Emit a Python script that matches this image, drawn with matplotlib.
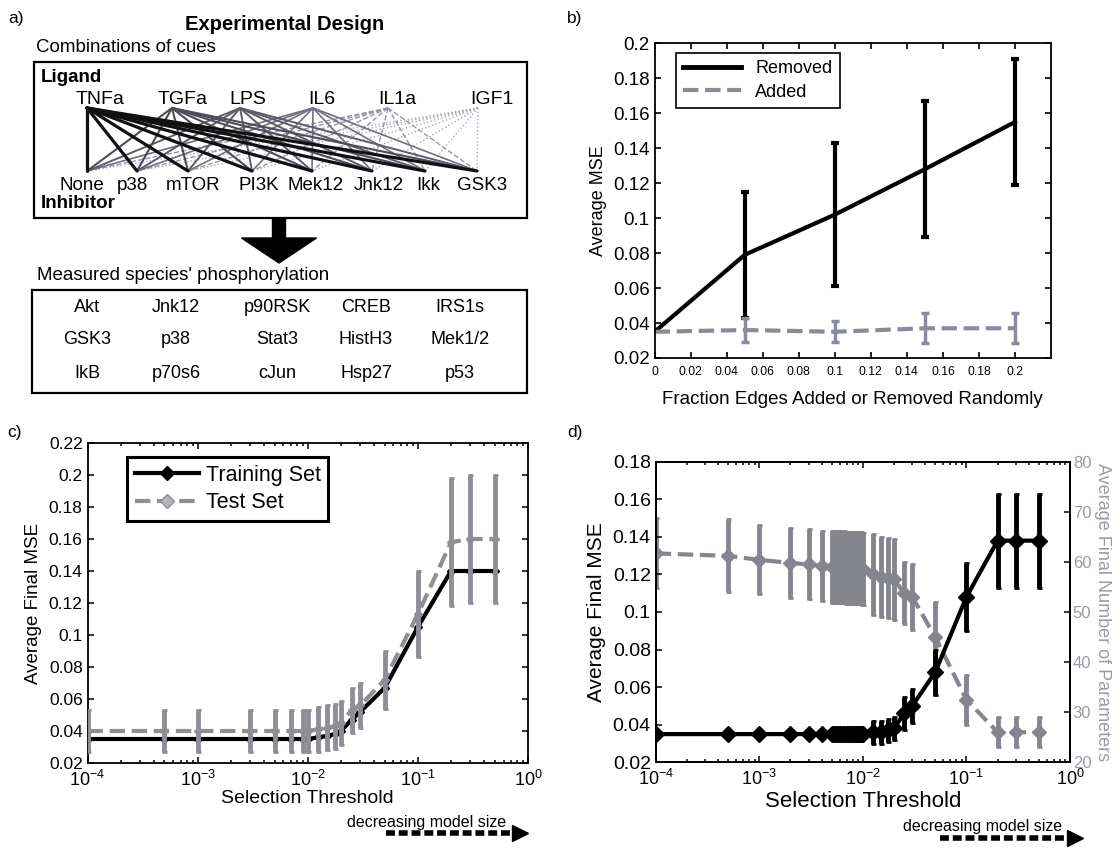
import matplotlib.pyplot as plt
from matplotlib.lines import Line2D
from matplotlib.patches import Rectangle
from matplotlib.ticker import FuncFormatter

plt.rcParams['font.family'] = ['Liberation Sans', 'DejaVu Sans']
plt.rcParams['mathtext.default'] = 'regular'

# ---------------- data ----------------
# panel a: experimental design
ligands = ['TNFa', 'TGFa', 'LPS', 'IL6', 'IL1a', 'IGF1']
inhibitors = ['None', 'p38', 'mTOR', 'PI3K', 'Mek12', 'Jnk12', 'Ikk', 'GSK3']
species = [['Akt', 'Jnk12', 'p90RSK', 'CREB', 'IRS1s'],
           ['GSK3', 'p38', 'Stat3', 'HistH3', 'Mek1/2'],
           ['IkB', 'p70s6', 'cJun', 'Hsp27', 'p53']]

# panel b: random edge perturbation
frac_edges = [0, 0.05, 0.1, 0.15, 0.2]
removed_mse = [0.035, 0.079, 0.102, 0.128, 0.155]
removed_err = [0.0, 0.036, 0.041, 0.039, 0.036]
added_mse = [0.035, 0.036, 0.035, 0.037, 0.037]
added_err = [0.0, 0.007, 0.006, 0.0085, 0.0085]

# panel c: training / test MSE vs selection threshold
thr_c = [1e-4, 5e-4, 1e-3, 3e-3, 5e-3, 7e-3, 9e-3, 1e-2, 1.25e-2, 1.5e-2,
         1.75e-2, 2e-2, 2.5e-2, 3e-2, 5e-2, 1e-1, 2e-1, 3e-1, 5e-1]
train_c = [0.035, 0.035, 0.035, 0.035, 0.035, 0.035, 0.035, 0.035, 0.036, 0.037,
           0.038, 0.040, 0.047, 0.052, 0.067, 0.105, 0.140, 0.140, 0.140]
test_c = [0.040, 0.040, 0.040, 0.040, 0.040, 0.040, 0.040, 0.040, 0.041, 0.042,
          0.043, 0.045, 0.053, 0.056, 0.072, 0.113, 0.158, 0.160, 0.160]
test_err_c = [0.013, 0.013, 0.013, 0.013, 0.013, 0.013, 0.013, 0.013, 0.014, 0.014,
              0.014, 0.014, 0.014, 0.014, 0.018, 0.027, 0.040, 0.040, 0.040]

# panel d: MSE and number of parameters vs selection threshold
thr_d = [0.0001, 0.0005, 0.001, 0.002, 0.003, 0.004,
         0.0050, 0.0052, 0.0054, 0.0056, 0.0058, 0.0060, 0.0062, 0.0064, 0.0066, 0.0068,
         0.0070, 0.0072, 0.0074, 0.0076, 0.0078, 0.0080, 0.0082, 0.0084, 0.0086, 0.0088,
         0.0090, 0.0092, 0.0094, 0.0096, 0.0098, 0.0100,
         0.0125, 0.015, 0.0175, 0.02, 0.025, 0.03, 0.05, 0.1, 0.2, 0.3, 0.5]
mse_d = [0.035, 0.035, 0.035, 0.035, 0.035, 0.035,
         0.035, 0.035, 0.035, 0.035, 0.035, 0.035, 0.035, 0.035, 0.035, 0.035,
         0.035, 0.035, 0.035, 0.035, 0.035, 0.035, 0.035, 0.035, 0.035, 0.035,
         0.035, 0.035, 0.035, 0.035, 0.035, 0.035,
         0.036, 0.036, 0.037, 0.038, 0.046, 0.050, 0.068, 0.108, 0.138, 0.138, 0.138]
mse_err_d = [0.002, 0.002, 0.002, 0.002, 0.002, 0.002,
             0.002, 0.002, 0.002, 0.002, 0.002, 0.002, 0.002, 0.002, 0.002, 0.002,
             0.002, 0.002, 0.002, 0.002, 0.002, 0.002, 0.002, 0.002, 0.002, 0.002,
             0.002, 0.002, 0.002, 0.002, 0.002, 0.002,
             0.006, 0.006, 0.006, 0.006, 0.009, 0.009, 0.012, 0.018, 0.025, 0.025, 0.025]
params_d = [61.7, 61.2, 60.4, 59.8, 59.5, 59.2,
            59.0, 59.0, 59.0, 59.0, 58.9, 58.9, 58.9, 58.9, 58.9, 58.8,
            58.8, 58.8, 58.8, 58.8, 58.8, 58.7, 58.7, 58.7, 58.7, 58.7,
            58.7, 58.7, 58.7, 58.7, 58.6, 58.6,
            57.5, 57.0, 56.8, 56.5, 53.8, 53.0, 45.0, 32.5, 26.0, 26.0, 26.0]
params_err_d = [7.0, 7.3, 6.9, 7.0, 7.0, 7.0,
                7.2, 7.2, 7.2, 7.2, 7.2, 7.2, 7.2, 7.2, 7.2, 7.2,
                7.2, 7.2, 7.2, 7.2, 7.2, 7.2, 7.2, 7.2, 7.2, 7.2,
                7.2, 7.2, 7.2, 7.2, 7.2, 7.2,
                8.0, 8.0, 8.0, 8.0, 6.2, 6.5, 7.0, 5.0, 3.0, 3.0, 3.0]

# ---------------- layout (pixels) ----------------
W, H = 1120, 848
lig_label_x = [100, 183, 248, 322, 397, 492]
lig_anchor_x = [87, 172, 240, 313, 388, 478]
inh_label_x = [82, 132, 193, 259, 316, 379, 428, 482]
inh_anchor_x = [87, 137, 188, 252, 312, 372, 425, 477]
lig_styles = [('#111111', 2.3, '-'), ('#4c4c58', 1.5, '-'), ('#5c5c6a', 1.4, '-'),
              ('#70707e', 1.2, '-'), ('#9595aa', 1.0, '--'), ('#a8a8c4', 1.0, ':')]
col_x = [87, 176, 277, 366, 460]
row_y = [307, 340, 373]

grey_b = '#8a8a9e'
grey_c = '#8e8e96'
grey_d = '#85858f'
grey_lab = '#9a9aa8'


def px_rect(l, t, r, b):
    return [l / W, 1 - b / H, (r - l) / W, (b - t) / H]


def style_axes(ax):
    for s in ax.spines.values():
        s.set_linewidth(1.3)
        s.set_color('k')


fmt_g = FuncFormatter(lambda v, p: '%g' % round(v, 4))

fig = plt.figure(figsize=(W / 100, H / 100), dpi=100)

# ---------------- panel b ----------------
axb = fig.add_axes(px_rect(654.6, 43.3, 1051, 358))
axb.errorbar(frac_edges, removed_mse, yerr=removed_err, color='k', lw=3,
             elinewidth=3, capsize=3, capthick=3, errorevery=(1, 1))
axb.errorbar(frac_edges, added_mse, yerr=added_err, color=grey_b, lw=3, ls='--',
             elinewidth=2.5, capsize=3, capthick=2.5, errorevery=(1, 1))
axb.set_xlim(0, 0.22)
axb.set_ylim(0.02, 0.2)
axb.set_xticks([0, 0.02, 0.04, 0.06, 0.08, 0.1, 0.12, 0.14, 0.16, 0.18, 0.2])
axb.set_yticks([0.02, 0.04, 0.06, 0.08, 0.1, 0.12, 0.14, 0.16, 0.18, 0.2])
axb.xaxis.set_major_formatter(fmt_g)
axb.yaxis.set_major_formatter(fmt_g)
axb.tick_params(direction='in', top=True, right=True, length=4, width=1.2)
axb.tick_params(axis='y', labelsize=13.5)
axb.tick_params(axis='x', labelsize=8.8, pad=6)
axb.set_xlabel('Fraction Edges Added or Removed Randomly', fontsize=13.5, labelpad=9)
axb.set_ylabel('Average MSE', fontsize=13)
style_axes(axb)
leg = axb.legend([Line2D([], [], color='k', lw=3.5),
                  Line2D([], [], color=grey_b, lw=3, ls='--')],
                 ['Removed', 'Added'], loc='upper left', bbox_to_anchor=(0.054, 0.969),
                 borderaxespad=0, fontsize=13, fancybox=False, edgecolor='k',
                 framealpha=1, handlelength=3.2, borderpad=0.4, labelspacing=0.35)
leg.get_frame().set_linewidth(1.2)

# ---------------- panel c ----------------
axc = fig.add_axes(px_rect(87.5, 443, 528, 763))
axc.plot(thr_c, train_c, color='k', lw=3, marker='D', ms=4.5, zorder=2)
axc.errorbar(thr_c, test_c, yerr=test_err_c, color=grey_c, lw=3, ls='--',
             elinewidth=3.5, capsize=1.8, capthick=2, marker='D', ms=4.5, zorder=3)
axc.set_xscale('log')
axc.set_xlim(1e-4, 1)
axc.set_ylim(0.02, 0.22)
axc.set_yticks([0.02, 0.04, 0.06, 0.08, 0.1, 0.12, 0.14, 0.16, 0.18, 0.2, 0.22])
axc.yaxis.set_major_formatter(fmt_g)
axc.tick_params(direction='in', top=True, right=True, which='both', width=1.1)
axc.tick_params(which='major', length=4)
axc.tick_params(which='minor', length=2.5)
axc.tick_params(axis='y', labelsize=12.5)
axc.tick_params(axis='x', labelsize=13, pad=5)
axc.set_xlabel('Selection Threshold', fontsize=14, labelpad=0)
axc.set_ylabel('Average Final MSE', fontsize=13.5, labelpad=5)
style_axes(axc)
leg = axc.legend([Line2D([], [], color='k', lw=3, marker='D', ms=7),
                  Line2D([], [], color=grey_c, lw=3, ls='--', marker='D', ms=7,
                         mfc='#b4b4bc')],
                 ['Training Set', 'Test Set'], loc='upper left',
                 bbox_to_anchor=(0.09, 0.956), borderaxespad=0, fontsize=15.5,
                 fancybox=False, edgecolor='k', framealpha=1, handlelength=3,
                 borderpad=0.35, labelspacing=0.3, handletextpad=0.3)
leg.get_frame().set_linewidth(2.2)

# ---------------- panel d ----------------
axd = fig.add_axes(px_rect(655.7, 461.7, 1070, 762.3))
axd2 = axd.twinx()
axd.set_zorder(axd2.get_zorder() + 1)
axd.patch.set_visible(False)
axd2.errorbar(thr_d, params_d, yerr=params_err_d, color=grey_d, lw=3, ls='--',
              elinewidth=3.5, capsize=1.8, capthick=2, marker='D', ms=7)
axd.errorbar(thr_d, mse_d, yerr=mse_err_d, color='k', lw=3, elinewidth=3.5,
             capsize=1.8, capthick=2, marker='D', ms=8)
axd.set_xscale('log')
axd.set_xlim(1e-4, 1)
axd.set_ylim(0.02, 0.18)
axd.set_yticks([0.02, 0.04, 0.06, 0.08, 0.1, 0.12, 0.14, 0.16, 0.18])
axd.yaxis.set_major_formatter(fmt_g)
axd2.set_ylim(20, 80)
axd2.set_yticks([20, 30, 40, 50, 60, 70, 80])
axd.tick_params(direction='in', top=True, right=False, which='both', width=1.1)
axd.tick_params(which='major', length=4)
axd.tick_params(which='minor', length=2.5)
axd.tick_params(axis='y', labelsize=14)
axd.tick_params(axis='x', labelsize=13, pad=5)
axd2.tick_params(direction='in', length=4, width=1.1, labelsize=12,
                 labelcolor=grey_lab, pad=2)
axd.set_xlabel('Selection Threshold', fontsize=16, labelpad=1)
axd.set_ylabel('Average Final MSE', fontsize=15, labelpad=5)
axd2.set_ylabel('Average Final Number of Parameters', rotation=270, fontsize=13,
                color=grey_lab, labelpad=14)
style_axes(axd)
style_axes(axd2)

# ---------------- overlay: panel a, labels, arrows ----------------
ov = fig.add_axes([0, 0, 1, 1])
ov.set_xlim(0, W)
ov.set_ylim(H, 0)
ov.axis('off')

for lab, (x, y) in zip(['a)', 'b)', 'c)', 'd)'],
                       [(8, 18), (567, 18), (7, 433), (567, 433)]):
    ov.text(x, y, lab, fontsize=12.5, va='center', ha='left')

ov.text(285, 24, 'Experimental Design', fontsize=14.5, fontweight='bold',
        ha='center', va='center')
ov.text(36, 48, 'Combinations of cues', fontsize=13.5, ha='left', va='center')
ov.add_patch(Rectangle((34, 62), 493, 156, fill=False, lw=1.6, ec='k'))
ov.text(41, 77, 'Ligand', fontsize=13.5, fontweight='bold', ha='left', va='center')
ov.text(41, 203, 'Inhibitor', fontsize=13.5, fontweight='bold', ha='left', va='center')

# combinations: every ligand with every inhibitor
for i in reversed(range(len(ligands))):
    col, lw, ls = lig_styles[i]
    for j in range(len(inhibitors)):
        ov.plot([lig_anchor_x[i], inh_anchor_x[j]], [108, 171], color=col, lw=lw,
                ls=ls, solid_capstyle='round')
for name, x in zip(ligands, lig_label_x):
    ov.text(x, 99, name, fontsize=14, ha='center', va='center')
for name, x in zip(inhibitors, inh_label_x):
    ov.text(x, 186, name, fontsize=13.5, ha='center', va='center')

ov.arrow(279, 218, 0, 45, width=13, head_width=75, head_length=25,
         length_includes_head=True, color='k')
ov.text(37, 275, "Measured species' phosphorylation", fontsize=13.5,
        ha='left', va='center')
ov.add_patch(Rectangle((32, 290), 495, 103, fill=False, lw=1.6, ec='k'))
for r, row in enumerate(species):
    for c, name in enumerate(row):
        ov.text(col_x[c], row_y[r], name, fontsize=13, ha='center', va='center')

# "decreasing model size" arrows
for tx, ty, x0, x1, ay in [(427, 822, 386, 515, 833), (983, 827, 940, 1070, 838)]:
    ov.text(tx, ty, 'decreasing model size', fontsize=11.5, ha='center', va='center')
    ov.plot([x0, x1], [ay, ay], color='k', lw=4, dashes=(1.6, 0.7))
    ov.plot([x1 + 5], [ay], marker='>', ms=11, color='k')

fig.savefig('out.png', dpi=100)
